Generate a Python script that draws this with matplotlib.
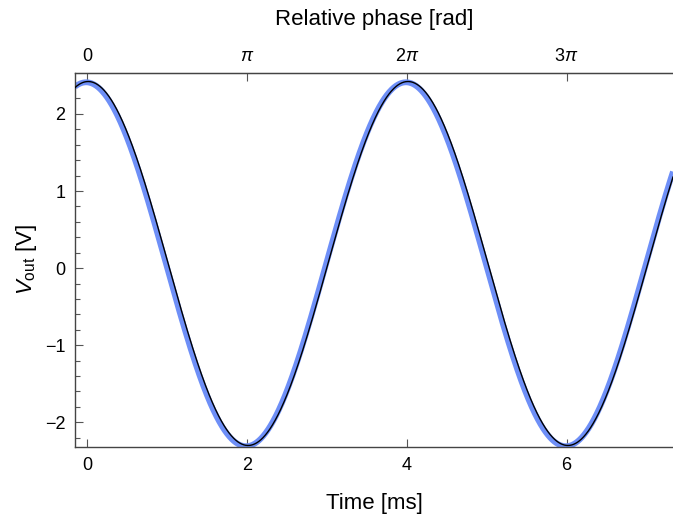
import numpy as np
import matplotlib
matplotlib.use("Agg")
import matplotlib.pyplot as plt
from matplotlib.ticker import MultipleLocator, FixedLocator

plt.rcParams['font.family'] = ['Liberation Sans', 'DejaVu Sans']
plt.rcParams['mathtext.fontset'] = 'custom'
plt.rcParams['mathtext.rm'] = 'Liberation Sans'
plt.rcParams['mathtext.it'] = 'Liberation Sans:italic'

# Sinusoid parameters for the measured and modelled output voltage
period_ms = 4.0
measured_amp, measured_offset, measured_peak_ms = 2.36, 0.05, -0.01
model_amp, model_offset, model_peak_ms = 2.36, 0.06, 0.015

x_limits = (-0.15, 7.33)
y_limits = (-2.32, 2.53)
time_ticks = [0, 2, 4, 6]
phase_ticks = [0, np.pi, 2 * np.pi, 3 * np.pi]
phase_labels = ['0', r'$\pi$', r'$2\pi$', r'$3\pi$']

t = np.linspace(x_limits[0], x_limits[1], 1500)
v_measured = measured_offset + measured_amp * np.cos(2 * np.pi * (t - measured_peak_ms) / period_ms)
v_model = model_offset + model_amp * np.cos(2 * np.pi * (t - model_peak_ms) / period_ms)

fig = plt.figure(figsize=(6.73, 5.19), dpi=100)
ax = fig.add_axes([0.1114, 0.1387, 0.8886, 0.7206])

ax.plot(t, v_measured, color='#6e8ff7', lw=4.2, solid_capstyle='butt', zorder=2)
ax.plot(t, v_model, color='black', lw=1.0, zorder=3)

ax.set_xlim(*x_limits)
ax.set_ylim(*y_limits)

spine_color = '#444444'
for side in ('left', 'bottom', 'top'):
    ax.spines[side].set_color(spine_color)
    ax.spines[side].set_linewidth(1.0)
ax.spines['right'].set_visible(False)

ax.xaxis.set_major_locator(FixedLocator(time_ticks))
ax.yaxis.set_major_locator(MultipleLocator(1))
ax.yaxis.set_minor_locator(MultipleLocator(0.2))
ax.set_yticks([-2, -1, 0, 1, 2])
ax.set_yticklabels(['\u22122', '\u22121', '0', '1', '2'])
ax.tick_params(axis='both', which='major', direction='in', length=6, width=0.8,
               color='#555555', labelsize=13, pad=7)
ax.tick_params(axis='y', which='minor', direction='in', length=3.5, width=0.8,
               color='#555555')
ax.tick_params(top=False, right=False)

ax.set_xlabel('Time [ms]', fontsize=16, labelpad=14)
ax.set_ylabel(r'$V_{\rm out}$ [V]', fontsize=16, labelpad=4)

top = ax.secondary_xaxis('top', functions=(lambda x: x * np.pi / 2, lambda p: p * 2 / np.pi))
top.xaxis.set_major_locator(FixedLocator(phase_ticks))
top.set_xticklabels(phase_labels)
top.tick_params(direction='in', length=6, width=0.8, color='#555555', labelsize=13, pad=6)
top.spines['top'].set_color(spine_color)
top.set_xlabel('Relative phase [rad]', fontsize=16, labelpad=16)

fig.savefig('out.png', dpi=100)
